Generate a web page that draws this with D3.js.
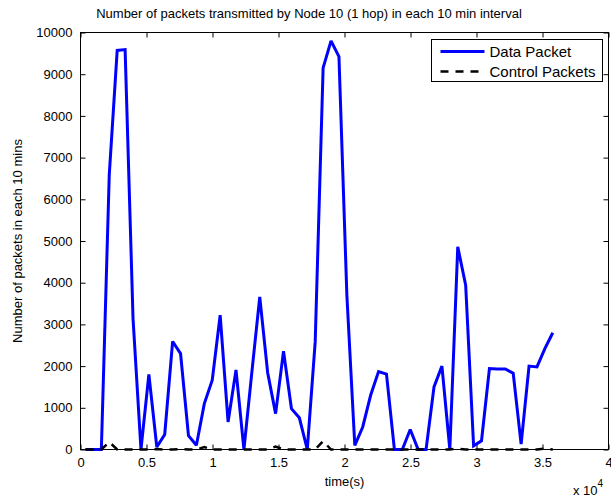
<!DOCTYPE html>
<html>
<head>
<meta charset="utf-8">
<script src="https://cdn.jsdelivr.net/npm/d3@7"></script>
<style>
html,body{margin:0;padding:0;background:#fff;}
svg{display:block;font-family:"Liberation Sans",Arial,Helvetica,sans-serif;}
</style>
</head>
<body>
<svg id="chart" width="611" height="497"></svg>
<script>
// ---- data (time in seconds, values in packets per 10 min) ----
const times = [380, 980, 1580, 2180, 2780, 3380, 3980, 4580, 5180, 5780,
  6380, 6980, 7580, 8180, 8780, 9380, 9980, 10580, 11180, 11780,
  12380, 12980, 13580, 14180, 14780, 15380, 15980, 16580, 17180, 17780,
  18380, 18980, 19580, 20180, 20780, 21380, 21980, 22580, 23180, 23780,
  24380, 24980, 25580, 26180, 26780, 27380, 27980, 28580, 29180, 29780,
  30380, 30980, 31580, 32180, 32780, 33380, 33980, 34580, 35180, 35780];

const dataPackets = [0, 0, 0, 6600, 9570, 9590, 3140, 0, 1800, 60,
  360, 2590, 2300, 330, 100, 1100, 1660, 3220, 660, 1910,
  0, 1850, 3660, 1840, 860, 2360, 980, 760, 0, 2580,
  9150, 9800, 9420, 3700, 100, 540, 1300, 1870, 1810, 0,
  0, 480, 0, 0, 1500, 2000, 0, 4860, 3940, 90,
  210, 1940, 1930, 1930, 1830, 130, 2000, 1980, 2420, 2800];

const controlPackets = [0, 0, 0, 180, 0, 0, 0, 0, 0, 10,
  0, 0, 10, 0, 0, 60, 0, 0, 0, 0,
  0, 0, 0, 0, 70, 0, 0, 0, 0, 0,
  200, 0, 0, 0, 0, 0, 0, 0, 0, 0,
  0, 0, 0, 0, 0, 0, 0, 20, 0, 0,
  0, 0, 0, 0, 0, 0, 0, 0, 20, 0];

const xTicks = [0, 5000, 10000, 15000, 20000, 25000, 30000, 35000, 40000];
const xTickLabels = ["0", "0.5", "1", "1.5", "2", "2.5", "3", "3.5", "4"];
const yTicks = [0, 1000, 2000, 3000, 4000, 5000, 6000, 7000, 8000, 9000, 10000];
const seriesNames = ["Data Packet", "Control Packets"];

const titleText = "Number of packets transmitted by Node 10 (1 hop) in each 10 min interval";
const xLabelText = "time(s)";
const yLabelText = "Number of packets in each 10 mins";

// ---- layout ----
const L = 80.5, R = 608.5, T = 32.5, B = 449.5;
const svg = d3.select("#chart");
const x = d3.scaleLinear().domain([0, 40000]).range([L, R]);
const y = d3.scaleLinear().domain([0, 10000]).range([B, T]);
const fs = 13;

// axes (ticks inward, on all four sides)
const tickLen = 5;
const axB = d3.axisBottom(x).tickValues(xTicks).tickSize(-tickLen).tickPadding(8)
  .tickFormat((d, i) => xTickLabels[i]);
const axT = d3.axisTop(x).tickValues(xTicks).tickSize(-tickLen).tickFormat("");
const axL = d3.axisLeft(y).tickValues(yTicks).tickSize(-tickLen).tickPadding(8)
  .tickFormat(d3.format("d"));
const axR = d3.axisRight(y).tickValues(yTicks).tickSize(-tickLen).tickFormat("");

function styleAxis(g) {
  g.select(".domain").remove();
  g.selectAll(".tick line").attr("stroke", "#000").attr("stroke-width", 1);
  g.selectAll(".tick text").attr("fill", "#000").style("font-size", fs + "px")
    .style("font-family", "Liberation Sans, Arial, sans-serif");
}
svg.append("g").attr("transform", `translate(0,${B})`).call(axB).call(styleAxis);
svg.append("g").attr("transform", `translate(0,${T})`).call(axT).call(styleAxis);
svg.append("g").attr("transform", `translate(${L},0)`).call(axL).call(styleAxis);
svg.append("g").attr("transform", `translate(${R},0)`).call(axR).call(styleAxis);

// axes box
svg.append("rect").attr("x", L).attr("y", T).attr("width", R - L).attr("height", B - T)
  .attr("fill", "none").attr("stroke", "#000").attr("stroke-width", 1);

// lines
const idx = d3.range(times.length);
const lineData = d3.line().x(i => x(times[i])).y(i => y(dataPackets[i]));
const lineCtrl = d3.line().x(i => x(times[i])).y(i => y(controlPackets[i]));

svg.append("path").attr("d", lineData(idx)).attr("fill", "none")
  .attr("stroke", "#0000ff").attr("stroke-width", 3).attr("stroke-linejoin", "miter")
  .attr("stroke-miterlimit", 2);
svg.append("path").attr("d", lineCtrl(idx)).attr("fill", "none")
  .attr("stroke", "#000").attr("stroke-width", 2.5).attr("stroke-dasharray", "8,7");

// title and labels
svg.append("text").attr("x", 309).attr("y", 18).attr("text-anchor", "middle")
  .style("font-size", fs + "px").text(titleText);
svg.append("text").attr("x", (L + R) / 2).attr("y", 486).attr("text-anchor", "middle")
  .style("font-size", fs + "px").text(xLabelText);
svg.append("text").attr("transform", `translate(22,${(T + B) / 2}) rotate(-90)`)
  .attr("text-anchor", "middle").style("font-size", fs + "px").text(yLabelText);

// exponent label
const ex = svg.append("text").attr("x", 573).attr("y", 495).style("font-size", fs + "px");
ex.append("tspan").text("x 10");
ex.append("tspan").attr("dy", -8).style("font-size", "10px").text("4");

// legend
const lg = svg.append("g");
const lx = 431.5, ly = 39.5, lw = 171, lh = 42;
lg.append("rect").attr("x", lx).attr("y", ly).attr("width", lw).attr("height", lh)
  .attr("fill", "#fff").attr("stroke", "#000").attr("stroke-width", 1);
const rows = [
  {name: seriesNames[0], color: "#0000ff", w: 3, dash: null},
  {name: seriesNames[1], color: "#000", w: 2.5, dash: "8,7"}
];
rows.forEach((r, i) => {
  const cy = ly + 12 + i * 20;
  lg.append("line").attr("x1", lx + 9).attr("x2", lx + 53).attr("y1", cy).attr("y2", cy)
    .attr("stroke", r.color).attr("stroke-width", r.w)
    .attr("stroke-dasharray", r.dash);
  lg.append("text").attr("x", lx + 58).attr("y", cy).attr("dy", "0.35em")
    .style("font-size", "15px").text(r.name);
});
</script>
</body>
</html>
